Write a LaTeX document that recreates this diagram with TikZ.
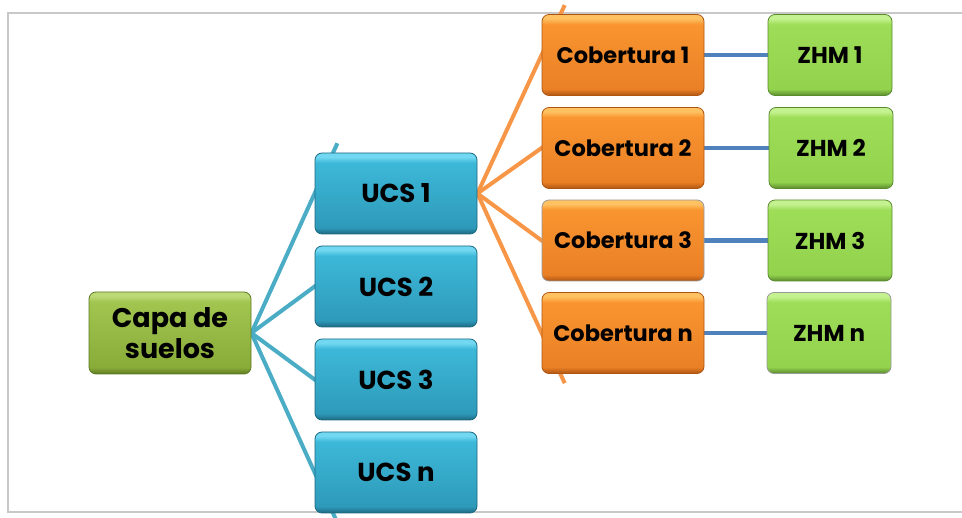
\documentclass[tikz,border=0pt]{standalone}
\usepackage{fontspec}
\setmainfont{Poppins}
\usetikzlibrary{calc,backgrounds}

% box colours
\definecolor{capaLight}{HTML}{BCD977}
\definecolor{capaTop}{HTML}{A2C550}
\definecolor{capaBot}{HTML}{89AB38}
\definecolor{capaDark}{HTML}{5C7A22}
\definecolor{ucsLight}{HTML}{72D8F2}
\definecolor{ucsTop}{HTML}{3DB8D8}
\definecolor{ucsBot}{HTML}{2E9ABA}
\definecolor{ucsDark}{HTML}{1C6880}
\definecolor{cobLight}{HTML}{FFC262}
\definecolor{cobTop}{HTML}{F99530}
\definecolor{cobBot}{HTML}{EA8026}
\definecolor{cobDark}{HTML}{AE5512}
\definecolor{zhmLight}{HTML}{C4F290}
\definecolor{zhmTop}{HTML}{9EDD58}
\definecolor{zhmBot}{HTML}{92D24D}
\definecolor{zhmDark}{HTML}{5A8A2E}
% connector colours
\definecolor{tealLine}{HTML}{4BACC6}
\definecolor{orangeLine}{HTML}{F79646}
\definecolor{blueLine}{HTML}{4F81BD}
\definecolor{frameGray}{HTML}{C8C8C8}

% bevelled vertical shadings (path box maps to 25bp..75bp)
\pgfdeclareverticalshading{capashade}{100bp}{color(0bp)=(capaDark); color(25bp)=(capaDark); color(29bp)=(capaBot); color(69bp)=(capaTop); color(72.5bp)=(capaLight); color(75bp)=(capaLight); color(100bp)=(capaLight)}
\pgfdeclareverticalshading{ucsshade}{100bp}{color(0bp)=(ucsDark); color(25bp)=(ucsDark); color(29bp)=(ucsBot); color(69bp)=(ucsTop); color(72.5bp)=(ucsLight); color(75bp)=(ucsLight); color(100bp)=(ucsLight)}
\pgfdeclareverticalshading{cobshade}{100bp}{color(0bp)=(cobDark); color(25bp)=(cobDark); color(29bp)=(cobBot); color(69bp)=(cobTop); color(72.5bp)=(cobLight); color(75bp)=(cobLight); color(100bp)=(cobLight)}
\pgfdeclareverticalshading{zhmshade}{100bp}{color(0bp)=(zhmDark); color(25bp)=(zhmDark); color(29bp)=(zhmBot); color(69bp)=(zhmTop); color(72.5bp)=(zhmLight); color(75bp)=(zhmLight); color(100bp)=(zhmLight)}

\begin{document}
\begin{tikzpicture}[x=1pt,y=-1pt,
  box/.style={rounded corners=7pt, minimum height=81pt, inner sep=0pt,
    align=center, line width=0.8pt, shade, text=black},
  capabox/.style={box, minimum width=162pt, minimum height=82pt, shading=capashade, draw=capaDark,
    font=\bfseries\fontsize{27}{31}\selectfont},
  ucsbox/.style={box, minimum width=162pt, shading=ucsshade, draw=ucsDark,
    font=\bfseries\fontsize{26}{30}\selectfont},
  cobbox/.style={box, minimum width=162pt, shading=cobshade, draw=cobDark,
    font=\bfseries\fontsize{22.5}{26}\selectfont},
  zhmbox/.style={box, minimum width=124pt, shading=zhmshade, draw=zhmDark,
    font=\bfseries\fontsize{23}{27}\selectfont},
  tealconn/.style={draw=tealLine, line width=4pt},
  orangeconn/.style={draw=orangeLine, line width=4pt},
  blueconn/.style={draw=blueLine, line width=4.5pt}]

\useasboundingbox (0,0) rectangle (962,518);

% boxes
\node[capabox] (capa) at (170,333) {Capa de\\suelos};
\node[ucsbox] (ucs1) at (396,193.5) {UCS 1};
\node[ucsbox] (ucs2) at (396,286.5) {UCS 2};
\node[ucsbox] (ucs3) at (396,379.5) {UCS 3};
\node[ucsbox] (ucsn) at (396,472.5) {UCS n};
\node[cobbox] (cob1) at (623,55) {Cobertura 1};
\node[cobbox] (cob2) at (623,148) {Cobertura 2};
\node[cobbox, draw=gray!80] (cob3) at (623,240.5) {Cobertura 3};
\node[cobbox] (cobn) at (623,333) {Cobertura n};
\node[zhmbox] (zhm1) at (830,55) {ZHM 1};
\node[zhmbox] (zhm2) at (831,148) {ZHM 2};
\node[zhmbox] (zhm3) at (830,240.5) {ZHM 3};
\node[zhmbox, draw=gray!80] (zhmn) at (829,333) {ZHM n};

\begin{scope}[on background layer]
  % outer frame
  \draw[frameGray, line width=2pt] (962,13) -- (8,13) -- (8,512) -- (962,512);
  % soil layer to UCS (lines run on behind the boxes)
  \foreach \c in {ucs1,ucs2,ucs3,ucsn}
    \path[tealconn] (capa.east) -- ($(capa.east)!1.36!(\c.west)$);
  % UCS 1 to cover types
  \foreach \c in {cob1,cob2,cob3,cobn}
    \path[orangeconn] (ucs1.east) -- ($(ucs1.east)!1.36!(\c.west)$);
  % cover types to ZHM
  \draw[blueconn] (cob1.east) -- (zhm1.west);
  \draw[blueconn] (cob2.east) -- (zhm2.west);
  \draw[blueconn] (cob3.east) -- (zhm3.west);
  \draw[blueconn] (cobn.east) -- (zhmn.west);
\end{scope}
\end{tikzpicture}
\end{document}
